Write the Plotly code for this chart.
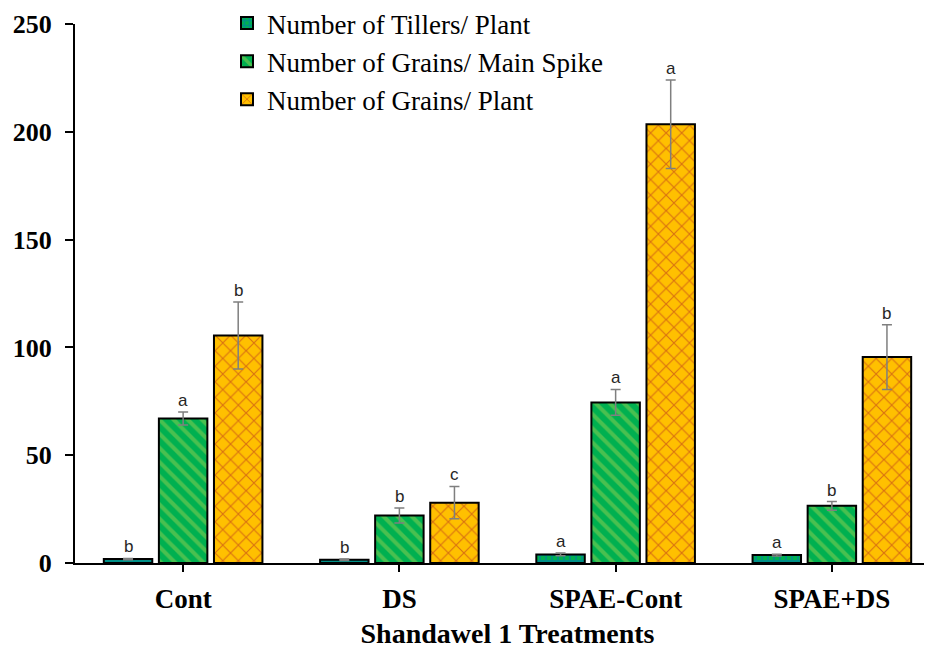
import plotly.graph_objects as go

# Shandawel 1 verileri
treatments = ["Cont", "DS", "SPAE-Cont", "SPAE+DS"]

tillers = [1.8, 1.5, 4.0, 3.7]
tillers_err = [0.3, 0.3, 0.6, 0.4]
tillers_sig = ["b", "b", "a", "a"]

grains_spike = [67.0, 22.0, 74.5, 26.5]
grains_spike_err = [3.0, 3.5, 6.0, 2.0]
grains_spike_sig = ["a", "b", "a", "b"]

grains_plant = [105.5, 28.0, 203.5, 95.5]
grains_plant_err = [15.5, 7.5, 20.5, 15.0]
grains_plant_sig = ["b", "c", "a", "b"]

# sayfa govdesi 8px kaydiriyor, marjlar buna gore
W, H = 932, 641
ML, MT, MB = 67, 16, 86
BARGAP = 0.236
SERIF = "Liberation Serif, Times New Roman, serif"

series = [
    ("Number of Tillers/ Plant", tillers, tillers_err, tillers_sig,
     dict(shape="+", fgcolor="#0070C0", bgcolor="#00B050", size=6, solidity=0.5)),
    ("Number of Grains/ Main Spike", grains_spike, grains_spike_err, grains_spike_sig,
     dict(shape="\\", fgcolor="#92D050", bgcolor="#00B050", size=10, solidity=0.4)),
    ("Number of Grains/ Plant", grains_plant, grains_plant_err, grains_plant_sig,
     dict(shape="x", fgcolor="#B22222", bgcolor="#FFC000", size=11, solidity=0.2)),
]

fig = go.Figure()
for i, (name, vals, errs, sig, pat) in enumerate(series):
    fig.add_trace(go.Bar(
        x=treatments, y=vals, name=name,
        legendgroup=f"g{i}",
        marker=dict(color=pat["bgcolor"], pattern=pat,
                    line=dict(color="black", width=2)),
        error_y=dict(type="data", array=errs, color="#7f7f7f",
                     thickness=1.5, width=5),
    ))

# anlamlilik harfleri (a, b, c) - hata cubugunun ustunde
plot_w = W - ML
plot_h = H - MT - MB
unit_px = plot_w / len(treatments)
slot_px = unit_px * (1 - BARGAP) / 3
annotations = []
for i, (name, vals, errs, sig, pat) in enumerate(series):
    for cat, v, e, s in zip(treatments, vals, errs, sig):
        annotations.append(dict(
            x=cat, y=v + e, xref="x", yref="y",
            text=s, showarrow=False, yanchor="bottom",
            xshift=(i - 1) * slot_px, yshift=0,
            font=dict(family="Liberation Sans", size=17, color="#262626"),
        ))

fig.update_layout(
    width=W, height=H,
    margin=dict(l=ML, r=0, t=MT, b=MB, autoexpand=False),
    paper_bgcolor="white", plot_bgcolor="white",
    font=dict(family=SERIF, color="black"),
    barmode="group", bargap=BARGAP, bargroupgap=0.12,
    showlegend=True,
    legend=dict(
        x=(219 - ML) / plot_w, y=1 + 25 / plot_h,
        xanchor="left", yanchor="top",
        font=dict(family=SERIF, size=27, color="black"),
        traceorder="grouped", tracegroupgap=0,
        bgcolor="rgba(0,0,0,0)",
    ),
    xaxis=dict(
        range=[-0.5, 3.5], showline=True, linecolor="black", linewidth=2,
        ticks="outside", ticklen=7, tickwidth=2, tickcolor="black",
        ticklabelstandoff=4,
        tickfont=dict(family=SERIF, size=27, color="black", weight="bold"),
        title=dict(text="Shandawel 1 Treatments", standoff=12,
                   font=dict(family=SERIF, size=28, color="black", weight="bold")),
        showgrid=False,
    ),
    yaxis=dict(
        range=[0, 250], tickvals=[0, 50, 100, 150, 200, 250],
        showline=True, linecolor="black", linewidth=2,
        ticks="outside", ticklen=8, tickwidth=2, tickcolor="black",
        ticklabelstandoff=8,
        tickfont=dict(family=SERIF, size=26, color="black", weight="bold"),
        showgrid=False, zeroline=False,
    ),
    annotations=annotations,
)

fig.write_html("out.html")
